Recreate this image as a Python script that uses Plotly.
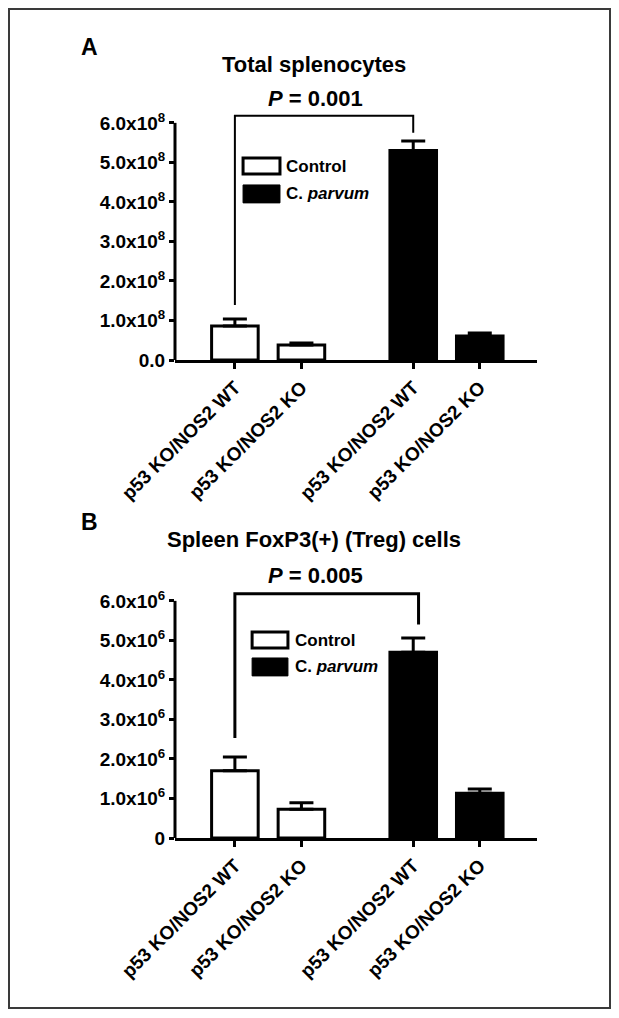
import plotly.graph_objects as go

# ---------------- data ----------------
categories = ["p53 KO/NOS2 WT", "p53 KO/NOS2 KO", "p53 KO/NOS2 WT", "p53 KO/NOS2 KO"]
x_pos = [0, 1, 2.68, 3.68]
groups = ["Control", "Control", "C. parvum", "C. parvum"]

# Panel A: Total splenocytes
A_mean = [0.86e8, 0.38e8, 5.30e8, 0.61e8]
A_sem = [0.18e8, 0.05e8, 0.24e8, 0.07e8]
A_ticks = [0, 1e8, 2e8, 3e8, 4e8, 5e8, 6e8]
A_ticktext = ["0.0", "1.0x10<sup>8</sup>", "2.0x10<sup>8</sup>", "3.0x10<sup>8</sup>",
              "4.0x10<sup>8</sup>", "5.0x10<sup>8</sup>", "6.0x10<sup>8</sup>"]
A_bracket_x = [0, 0, 2.68, 2.68]
A_bracket_y = [1.39e8, 6.18e8, 6.18e8, 5.75e8]

# Panel B: Spleen FoxP3(+) (Treg) cells
B_mean = [1.70e6, 0.73e6, 4.70e6, 1.13e6]
B_sem = [0.35e6, 0.16e6, 0.36e6, 0.11e6]
B_ticks = [0, 1e6, 2e6, 3e6, 4e6, 5e6, 6e6]
B_ticktext = ["0", "1.0x10<sup>6</sup>", "2.0x10<sup>6</sup>", "3.0x10<sup>6</sup>",
              "4.0x10<sup>6</sup>", "5.0x10<sup>6</sup>", "6.0x10<sup>6</sup>"]
B_bracket_x = [0, 0, 2.76, 2.76]
B_bracket_y = [2.53e6, 6.18e6, 6.18e6, 5.40e6]

FONT = "Liberation Sans, Arial, Helvetica, sans-serif"
fig = go.Figure()


def add_panel(mean, sem, bx, by, xa, ya, bw):
    for g, fill in [("Control", "white"), ("C. parvum", "black")]:
        idx = [i for i, gg in enumerate(groups) if gg == g]
        fig.add_trace(go.Bar(
            x=[x_pos[i] for i in idx], y=[mean[i] for i in idx],
            width=0.70, xaxis=xa, yaxis=ya, showlegend=False,
            marker=dict(color=fill, line=dict(color="black", width=3)),
            error_y=dict(type="data", symmetric=False,
                         array=[sem[i] for i in idx], arrayminus=[0] * len(idx),
                         thickness=3, width=12, color="black"),
        ))
    fig.add_trace(go.Scatter(x=bx, y=by, mode="lines", xaxis=xa, yaxis=ya,
                             line=dict(color="black", width=bw), showlegend=False,
                             hoverinfo="skip"))


add_panel(A_mean, A_sem, A_bracket_x, A_bracket_y, "x", "y", 2)
add_panel(B_mean, B_sem, B_bracket_x, B_bracket_y, "x2", "y2", 3)

xcommon = dict(range=[-0.90, 4.54], tickvals=x_pos, ticktext=categories, tickangle=-45,
               ticks="outside", ticklen=6, tickwidth=3, tickcolor="black",
               showline=True, linewidth=3, linecolor="black", showgrid=False,
               zeroline=False, automargin=False,
               tickfont=dict(family=FONT, size=19, color="black", weight="bold"))
ycommon = dict(ticks="outside", ticklen=5, tickwidth=3, tickcolor="black",
               showline=False, showgrid=False, zeroline=False, automargin=False,
               tickfont=dict(family=FONT, size=19, color="black", weight="bold"))

H = 1018
fig.update_layout(
    width=619, height=H,
    margin=dict(l=175, r=82, t=0, b=0),
    paper_bgcolor="white", plot_bgcolor="white",
    barmode="overlay",
    xaxis=dict(domain=[0, 1], anchor="y", **xcommon),
    yaxis=dict(domain=[1 - 360 / H, 1 - 111 / H], anchor="x", range=[0, 6.3e8],
               tickvals=A_ticks, ticktext=A_ticktext, **ycommon),
    xaxis2=dict(domain=[0, 1], anchor="y2", **xcommon),
    yaxis2=dict(domain=[1 - 838 / H, 1 - 589 / H], anchor="x2", range=[0, 6.3e6],
                tickvals=B_ticks, ticktext=B_ticktext, **ycommon),
)

shapes = []
# y axis lines (ending at top tick)
shapes.append(dict(type="line", xref="x domain", yref="y", x0=0, x1=0, y0=0, y1=A_ticks[-1],
                   line=dict(color="black", width=3)))
shapes.append(dict(type="line", xref="x2 domain", yref="y2", x0=0, x1=0, y0=0, y1=B_ticks[-1],
                   line=dict(color="black", width=3)))

annotations = []


def legend(xd, yd, pos):
    bx0, bx1, cy0, cy1, py0, py1, tx, cty, pty = pos
    shapes.append(dict(type="rect", xref=xd, yref=yd, x0=bx0, x1=bx1, y0=cy0, y1=cy1,
                       line=dict(color="black", width=3), fillcolor="white"))
    shapes.append(dict(type="rect", xref=xd, yref=yd, x0=bx0, x1=bx1, y0=py0, y1=py1,
                       line=dict(color="black", width=1), fillcolor="black"))
    annotations.append(dict(xref=xd, yref=yd, x=tx, y=cty, text="Control", showarrow=False,
                            xanchor="left", yanchor="middle",
                            font=dict(family=FONT, size=17, color="black", weight="bold")))
    annotations.append(dict(xref=xd, yref=yd, x=tx, y=pty, text="C. <i>parvum</i>", showarrow=False,
                            xanchor="left", yanchor="middle",
                            font=dict(family=FONT, size=17, color="black", weight="bold")))


legend("x domain", "y domain", (0.188, 0.290, 0.747, 0.811, 0.631, 0.703, 0.300, 0.779, 0.667))
legend("x2 domain", "y2 domain", (0.213, 0.312, 0.763, 0.827, 0.651, 0.723, 0.325, 0.795, 0.687))


def titles(xd, yd, letter, title, ptxt, ly, ty, py):
    annotations.append(dict(xref=xd, yref=yd, x=-0.235, y=ly, text=letter, showarrow=False,
                            xanchor="center", yanchor="middle",
                            font=dict(family=FONT, size=23, color="black", weight="bold")))
    annotations.append(dict(xref=xd, yref=yd, x=0.383, y=ty, text=title, showarrow=False,
                            xanchor="center", yanchor="middle",
                            font=dict(family=FONT, size=22, color="black", weight="bold")))
    annotations.append(dict(xref=xd, yref=yd, x=0.388, y=py, text=ptxt, showarrow=False,
                            xanchor="center", yanchor="middle",
                            font=dict(family=FONT, size=22, color="black", weight="bold")))


titles("x domain", "y domain", "A", "Total splenocytes", "<i>P</i> = 0.001", 1.257, 1.185, 1.052)
titles("x2 domain", "y2 domain", "B", "Spleen FoxP3(+) (Treg) cells", "<i>P</i> = 0.005", 1.269, 1.197, 1.056)

# outer frame
shapes.append(dict(type="rect", xref="paper", yref="paper", x0=(9 - 175) / 362, x1=(610 - 175) / 362,
                   y0=1 - 1008 / H, y1=1 - 9 / H, line=dict(color="#3a3a3a", width=2)))

fig.update_layout(shapes=shapes, annotations=annotations)
fig.write_html("out.html", config={"displayModeBar": False},
               post_script="document.body.style.margin='0';")
